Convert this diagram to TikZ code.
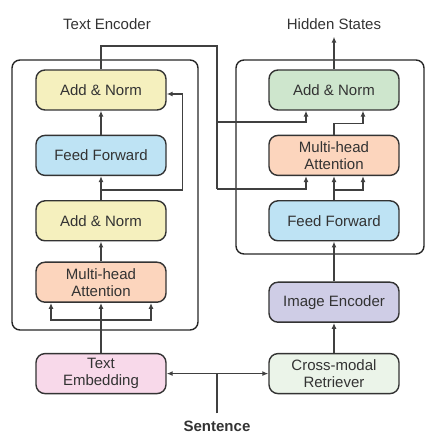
\documentclass[tikz,border=0pt]{standalone}
\usepackage{fontspec}
\setmainfont{Liberation Sans}
\usetikzlibrary{positioning,arrows.meta}
\definecolor{normyellow}{HTML}{F5F0BE}
\definecolor{ffblue}{HTML}{BEE3F4}
\definecolor{attpeach}{HTML}{FCD5BD}
\definecolor{embpink}{HTML}{F8D9EA}
\definecolor{normgreen}{HTML}{CEE6CD}
\definecolor{imglav}{HTML}{CFCDE6}
\definecolor{retrgreen}{HTML}{EBF4E9}
\begin{document}
\begin{tikzpicture}[x=1pt, y=1pt, node distance=24pt, font=\fontsize{15}{17}\selectfont,
    block/.style={draw=black!80, line width=1.4pt, rounded corners=9pt, minimum width=130pt, minimum height=40pt, align=center, text=black!80},
    frame/.style={draw=black!85, line width=1.4pt, rounded corners=8pt},
    wire/.style={draw=black!75, line width=1.4pt},
    link/.style={wire, -{Latex[length=6pt,width=5pt]}},
    label/.style={inner sep=7pt, text=black!80}]
    \useasboundingbox (0,0) rectangle (435,437);

    \draw[frame] (12,107) rectangle (198,377);
    \draw[frame] (236,183) rectangle (424,377);

    \node[block, fill=normyellow] (lan) at (101,347) {Add \& Norm};
    \node[block, fill=ffblue, below=of lan] (lff) {Feed Forward};
    \node[block, fill=normyellow, below=of lff] (lan2) {Add \& Norm};
    \node[block, fill=attpeach, below=20pt of lan2] (lmha) {Multi-head\\Attention};
    \node[block, fill=embpink, below=50pt of lmha] (tembed) {Text\\Embedding};

    \node[block, fill=normgreen] (ran) at (334,347) {Add \& Norm};
    \node[block, fill=attpeach, below=of ran] (rmha) {Multi-head\\Attention};
    \node[block, fill=ffblue, below=of rmha] (rff) {Feed Forward};
    \node[block, fill=imglav, below=40pt of rff] (imgenc) {Image Encoder};
    \node[block, fill=retrgreen, below=30pt of imgenc] (retr) {Cross-modal\\Retriever};

    \node[label] (txtenc) at (107,413) {Text Encoder};
    \node[label] (hidden) at (334,413) {Hidden States};
    \node[label, font=\fontsize{15}{17}\selectfont\bfseries] (sentence) at (217,11) {Sentence};

    \coordinate (bustop) at (217,391);
    \coordinate (busmid) at (217,315);
    \coordinate (busbot) at (217,248);
    \coordinate (split) at (sentence |- tembed.east);

    \draw[link] (tembed) -- (lmha);
    \draw[link] ([yshift=-17pt]lmha.south) -| ([xshift=-50pt]lmha.south);
    \draw[link] ([yshift=-17pt]lmha.south) -| ([xshift=50pt]lmha.south);
    \draw[link] (lmha) -- (lan2);
    \draw[link] (lan2) -- (lff);
    \draw[link] (lff) -- (lan);
    \draw[link] ([yshift=10pt]lan2.north) -| ([xshift=16pt,yshift=-4pt]lan.east) -- ([yshift=-4pt]lan.east);

    \draw[wire] (lan) |- (bustop) -- (busbot);
    \draw[link] (busmid) -| ([xshift=-28pt]ran.south);
    \draw[link] (busbot) -| ([xshift=-28pt]rmha.south);

    \draw[link] (retr) -- (imgenc);
    \draw[link] (imgenc) -- (rff);
    \draw[link] (rff) -- (rmha);
    \draw[link] ([yshift=10pt]rff.north) -| ([xshift=29pt]rmha.south);
    \draw[link] (rmha.north) -- ++(0,11) -| ([xshift=29pt]ran.south);
    \draw[link] (ran) -- (hidden);

    \draw[wire] (sentence) -- (split);
    \draw[link] (split) -- (tembed);
    \draw[link] (split) -- (retr);
\end{tikzpicture}
\end{document}
